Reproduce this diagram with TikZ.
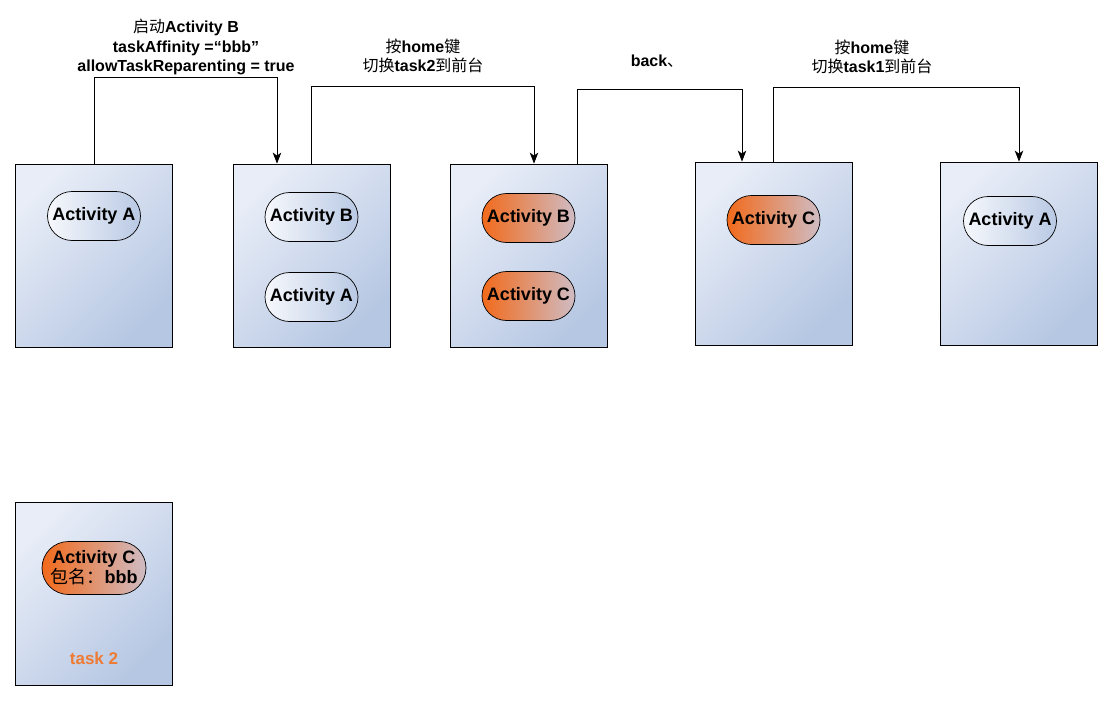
\documentclass[tikz,border=0pt]{standalone}
\usepackage{fontspec}
\setmainfont{Liberation Sans}
\newfontfamily\cjk{Noto Sans CJK SC}
\newcommand{\hanzi}[1]{{\cjk\mdseries #1}}
\usepackage{xcolor}
\usetikzlibrary{arrows.meta, shapes.misc}

\definecolor{boxtop}{HTML}{E8EDF7}
\definecolor{boxbot}{HTML}{B6C7E3}
\definecolor{pillorange}{HTML}{F26A1B}
\definecolor{pillgrey}{HTML}{CFBCC4}
\definecolor{pillwhite}{HTML}{F6F8FC}
\definecolor{pillblue}{HTML}{B9C9E4}
\definecolor{tasklabel}{HTML}{EE7B33}

\begin{document}
\begin{tikzpicture}[x=1pt, y=-1pt,
  taskbox/.style={draw=black, line width=0.8pt, top color=boxtop, bottom color=boxbot,
    shading angle=45, minimum width=157pt, minimum height=183pt, inner sep=0pt},
  pill/.style={rounded rectangle, draw=black, line width=0.7pt, minimum width=97pt,
    minimum height=49pt, inner sep=2pt, align=center,
    font=\fontsize{18}{20}\selectfont\bfseries},
  plainpill/.style={pill, left color=pillwhite, right color=pillblue},
  hotpill/.style={pill, left color=pillorange, right color=pillgrey},
  lbl/.style={align=center, font=\fontsize{16}{19.5}\selectfont\bfseries},
  arr/.style={line width=0.8pt, -{Stealth[length=11pt, width=8.5pt, inset=3pt]}}]

\useasboundingbox (0,0) rectangle (1113,701);

% Task stacks - first row
\node[taskbox] (box1) at (94,255.5) {};
\node[taskbox] (box2) at (311.5,255.5) {};
\node[taskbox] (box3) at (528.5,255.5) {};
\node[taskbox] (box4) at (773.5,253.5) {};
\node[taskbox] (box5) at (1019,253.5) {};

% Activities in each stack
\node[plainpill] (actA1) at (94,216) {Activity A};
\node[plainpill] (actB2) at (311.5,217) {Activity B};
\node[plainpill] (actA2) at (311.5,297) {Activity A};
\node[hotpill] (actB3) at (528.5,218) {Activity B};
\node[hotpill] (actC3) at (528.5,296) {Activity C};
\node[hotpill] (actC4) at (773.5,220) {Activity C};
\node[plainpill] (actA5) at (1010,221) {Activity A};

% task 2 - separate stack below
\node[taskbox] (box6) at (94,593.5) {};
\node[hotpill, minimum width=108pt, minimum height=53pt] (actC6) at (94,568)
  {Activity C\\\hanzi{包名：}bbb};
\node[font=\fontsize{17}{20}\selectfont\bfseries, text=tasklabel] (task2) at (94,658) {task 2};

% Transitions between stacks
\coordinate (k1) at (277,77);
\coordinate (k2) at (534,86);
\coordinate (k3a) at (577,89);
\coordinate (k3b) at (742,89);
\coordinate (k4) at (1019,87);
\draw[arr] (box1.north) |- (k1) -- (k1 |- box2.north);
\draw[arr] (box2.north) |- (k2) -- (k2 |- box3.north);
\draw[arr] (k3a |- box3.north) -- (k3a) -- (k3b) -- (k3b |- box4.north);
\draw[arr] (box4.north) |- (k4) -- (k4 |- box5.north);

% Transition labels
\node[lbl] (lab1) at (186,47) {\hanzi{启动}Activity B\\taskAffinity =“bbb”\\allowTaskReparenting = true};
\node[lbl] (lab2) at (423,56) {\hanzi{按}home\hanzi{键}\\\hanzi{切换}task2\hanzi{到前台}};
\node[lbl] (lab3) at (657,61) {back\hanzi{、}};
\node[lbl] (lab4) at (872,57) {\hanzi{按}home\hanzi{键}\\\hanzi{切换}task1\hanzi{到前台}};

\end{tikzpicture}
\end{document}
